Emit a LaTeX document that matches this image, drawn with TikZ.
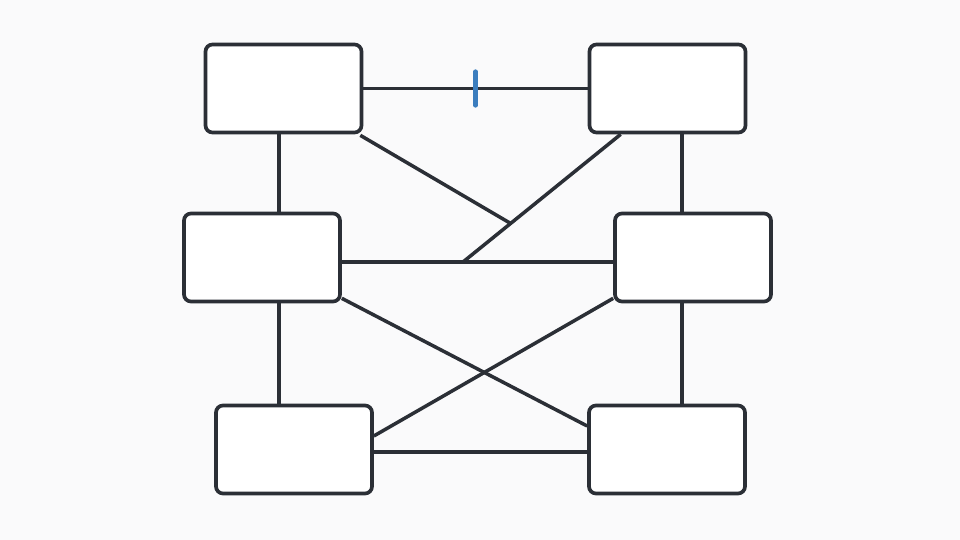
\documentclass[tikz,border=0pt]{standalone}
\usepackage{tikz}
\usetikzlibrary{calc}
\definecolor{ink}{RGB}{43,47,54}
\definecolor{papier}{RGB}{250,250,251}
\definecolor{tickblau}{RGB}{59,125,190}
\tikzset{
	kasten/.style={draw=ink, line width=2.1pt, fill=white, rounded corners=0.14cm, inner sep=0pt, minimum width=3.12cm, minimum height=1.76cm},
	verbind/.style={draw=ink, line width=2pt},
	marke/.style={draw=tickblau, line width=2.4pt, line cap=round}
}

\begin{document}
\begin{tikzpicture}[x=0.02cm, y=-0.02cm]

	\fill[papier] (0,0) rectangle (960,540);
	\useasboundingbox (0,0) rectangle (960,540);

	% hilfslinien fuer die senkrechten und waagrechten verbindungen
	\coordinate (sl) at (279,0);
	\coordinate (sr) at (682,0);
	\coordinate (wm) at (0,262);
	\coordinate (wu) at (0,452);

	\node[kasten] (ol) at (283.5,88.5) {};
	\node[kasten] (or) at (667.5,88.5) {};
	\node[kasten] (ml) at (262,257.5) {};
	\node[kasten] (mr) at (693,257.5) {};
	\node[kasten] (ul) at (294,449.5) {};
	\node[kasten] (ur) at (667,449.5) {};

	% knickpunkte der schraegen
	\coordinate (k0) at ($(or.south west)+(33,0)$);
	\coordinate (k2) at (463,262);
	\coordinate (k1) at ($(k0)!0.698!(k2)$);

	\draw[verbind] (ol.east) -- coordinate (mitte) (or.west);
	\draw[verbind] (ol.south -| sl) -- (ml.north -| sl);
	\draw[verbind] (ml.south -| sl) -- (ul.north -| sl);
	\draw[verbind] (or.south -| sr) -- (mr.north -| sr);
	\draw[verbind] (mr.south -| sr) -- (ur.north -| sr);
	\draw[verbind] (ml.east |- wm) -- (mr.west |- wm);
	\draw[verbind] (ul.east |- wu) -- (ur.west |- wu);
	\draw[verbind] (k0) -- (k2);
	\draw[verbind] ($(ol.south east)+(-3,1)$) -- (k1);
	\draw[verbind] ($(ml.south east)+(0,-5)$) -- ($(ur.west)+(0,-23.5)$);
	\draw[verbind] ($(mr.south west)+(0,-5)$) -- ($(ul.east)+(0,-13.5)$);

	\draw[marke] ($(mitte)+(0,-17)$) -- ($(mitte)+(0,17)$);

\end{tikzpicture}
\end{document}
